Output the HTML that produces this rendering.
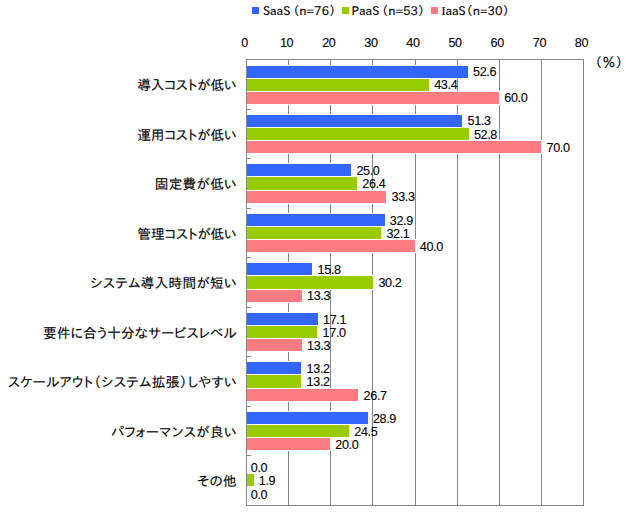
<!DOCTYPE html>
<html><head><meta charset="utf-8"><style>
html,body{margin:0;padding:0;background:#fff;}
body{width:625px;height:513px;position:relative;overflow:hidden;}
.a{position:absolute;}
.t{position:absolute;white-space:nowrap;font-family:"Liberation Sans","IPAPGothic",sans-serif;font-size:12px;line-height:14px;color:#000;}
.l{font-family:"IPAPGothic","Liberation Sans","Noto Sans CJK JP",sans-serif;font-feature-settings:"palt";-webkit-text-stroke:0.15px #000;}
.j{font-family:"Liberation Sans","IPAPGothic","Noto Sans CJK JP",sans-serif;font-feature-settings:"palt";font-size:13.7px;line-height:16px;color:#000;-webkit-text-stroke:0.12px #000;}
.g{position:absolute;background:#868686;}
.n{font-size:12.6px;letter-spacing:-0.35px;-webkit-text-stroke:0.1px #000;}
.w{position:absolute;background:#fff;}
</style></head><body>

<div class="a" style="left:252px;top:7px;width:7px;height:7px;background:#3366ff"></div>
<div class="t l" style="left:263px;top:3px">SaaS<span style="margin-left:2.4px">（</span>n=76）</div>
<div class="a" style="left:342px;top:7px;width:7px;height:7px;background:#99cc00"></div>
<div class="t l" style="left:351.5px;top:3px">PaaS<span style="margin-left:2.4px">（</span>n=53）</div>
<div class="a" style="left:431px;top:7px;width:7px;height:7px;background:#ff7c80"></div>
<div class="t l" style="left:441.4px;top:3px"><span style="font-family:'Liberation Serif',serif">I</span>aaS<span style="margin-left:0.5px">（</span>n=30）</div>
<div class="t n" style="left:229.5px;top:35.5px;width:30px;text-align:center">0</div>
<div class="t n" style="left:271.6px;top:35.5px;width:30px;text-align:center">10</div>
<div class="t n" style="left:313.8px;top:35.5px;width:30px;text-align:center">20</div>
<div class="t n" style="left:355.9px;top:35.5px;width:30px;text-align:center">30</div>
<div class="t n" style="left:398.0px;top:35.5px;width:30px;text-align:center">40</div>
<div class="t n" style="left:440.1px;top:35.5px;width:30px;text-align:center">50</div>
<div class="t n" style="left:482.2px;top:35.5px;width:30px;text-align:center">60</div>
<div class="t n" style="left:524.4px;top:35.5px;width:30px;text-align:center">70</div>
<div class="t n" style="left:566.5px;top:35.5px;width:30px;text-align:center">80</div>
<div class="t l" style="left:594.8px;top:56px;font-size:13px;letter-spacing:0.5px">（％）</div>
<div class="g" style="left:288px;top:59px;width:1px;height:446px"></div>
<div class="g" style="left:330px;top:59px;width:1px;height:446px"></div>
<div class="g" style="left:372px;top:59px;width:1px;height:446px"></div>
<div class="g" style="left:415px;top:59px;width:1px;height:446px"></div>
<div class="g" style="left:457px;top:59px;width:1px;height:446px"></div>
<div class="g" style="left:499px;top:59px;width:1px;height:446px"></div>
<div class="g" style="left:541px;top:59px;width:1px;height:446px"></div>
<div class="g" style="left:246px;top:59px;width:338px;height:1px"></div>
<div class="g" style="left:246px;top:505px;width:338px;height:1px"></div>
<div class="g" style="left:583px;top:59px;width:1px;height:447px"></div>
<div class="g" style="left:246px;top:109px;width:5px;height:1px"></div>
<div class="g" style="left:246px;top:158px;width:5px;height:1px"></div>
<div class="g" style="left:246px;top:208px;width:5px;height:1px"></div>
<div class="g" style="left:246px;top:257px;width:5px;height:1px"></div>
<div class="g" style="left:246px;top:307px;width:5px;height:1px"></div>
<div class="g" style="left:246px;top:356px;width:5px;height:1px"></div>
<div class="g" style="left:246px;top:406px;width:5px;height:1px"></div>
<div class="g" style="left:246px;top:455px;width:5px;height:1px"></div>
<div class="w" style="left:247px;top:65px;width:222px;height:14px"></div>
<div class="w" style="left:247px;top:78px;width:183px;height:14px"></div>
<div class="w" style="left:247px;top:91px;width:253px;height:14px"></div>
<div class="a" style="left:247px;top:66px;width:221px;height:12px;background:#3366ff"></div>
<div class="t n" style="left:473.0px;top:64.8px">52.6</div>
<div class="a" style="left:247px;top:79px;width:182px;height:12px;background:#99cc00"></div>
<div class="t n" style="left:434.2px;top:78.0px">43.4</div>
<div class="a" style="left:247px;top:92px;width:252px;height:12px;background:#ff7c80"></div>
<div class="t n" style="left:504.3px;top:91.1px">60.0</div>
<div class="t j" style="right:388.37px;top:78.0px;letter-spacing:-0.171px">導入コストが低い</div>
<div class="w" style="left:247px;top:114px;width:216px;height:14px"></div>
<div class="w" style="left:247px;top:127px;width:223px;height:14px"></div>
<div class="w" style="left:247px;top:140px;width:295px;height:14px"></div>
<div class="a" style="left:247px;top:115px;width:215px;height:12px;background:#3366ff"></div>
<div class="t n" style="left:467.5px;top:114.4px">51.3</div>
<div class="a" style="left:247px;top:128px;width:222px;height:12px;background:#99cc00"></div>
<div class="t n" style="left:473.9px;top:127.5px">52.8</div>
<div class="a" style="left:247px;top:141px;width:294px;height:12px;background:#ff7c80"></div>
<div class="t n" style="left:546.5px;top:140.7px">70.0</div>
<div class="t j" style="right:388.37px;top:127.6px;letter-spacing:-0.171px">運用コストが低い</div>
<div class="w" style="left:247px;top:163px;width:105px;height:14px"></div>
<div class="w" style="left:247px;top:176px;width:111px;height:15px"></div>
<div class="w" style="left:247px;top:190px;width:140px;height:14px"></div>
<div class="a" style="left:247px;top:164px;width:104px;height:12px;background:#3366ff"></div>
<div class="t n" style="left:356.4px;top:163.9px">25.0</div>
<div class="a" style="left:247px;top:177px;width:110px;height:13px;background:#99cc00"></div>
<div class="t n" style="left:362.3px;top:177.1px">26.4</div>
<div class="a" style="left:247px;top:191px;width:139px;height:12px;background:#ff7c80"></div>
<div class="t n" style="left:391.5px;top:190.2px">33.3</div>
<div class="t j" style="right:387.96px;top:176.6px;letter-spacing:0.240px">固定費が低い</div>
<div class="w" style="left:247px;top:213px;width:139px;height:14px"></div>
<div class="w" style="left:247px;top:226px;width:135px;height:14px"></div>
<div class="w" style="left:247px;top:239px;width:169px;height:14px"></div>
<div class="a" style="left:247px;top:214px;width:138px;height:12px;background:#3366ff"></div>
<div class="t n" style="left:389.8px;top:213.5px">32.9</div>
<div class="a" style="left:247px;top:227px;width:134px;height:12px;background:#99cc00"></div>
<div class="t n" style="left:386.4px;top:226.6px">32.1</div>
<div class="a" style="left:247px;top:240px;width:168px;height:12px;background:#ff7c80"></div>
<div class="t n" style="left:419.8px;top:239.8px">40.0</div>
<div class="t j" style="right:388.41px;top:226.7px;letter-spacing:-0.214px">管理コストが低い</div>
<div class="w" style="left:247px;top:262px;width:66px;height:14px"></div>
<div class="w" style="left:247px;top:275px;width:127px;height:15px"></div>
<div class="w" style="left:247px;top:289px;width:56px;height:14px"></div>
<div class="a" style="left:247px;top:263px;width:65px;height:12px;background:#3366ff"></div>
<div class="t n" style="left:317.6px;top:263.0px">15.8</div>
<div class="a" style="left:247px;top:276px;width:126px;height:13px;background:#99cc00"></div>
<div class="t n" style="left:378.4px;top:276.2px">30.2</div>
<div class="a" style="left:247px;top:290px;width:55px;height:12px;background:#ff7c80"></div>
<div class="t n" style="left:307.0px;top:289.3px">13.3</div>
<div class="t j" style="right:387.93px;top:276.2px;letter-spacing:0.275px">システム導入時間が短い</div>
<div class="w" style="left:247px;top:312px;width:72px;height:14px"></div>
<div class="w" style="left:247px;top:325px;width:71px;height:14px"></div>
<div class="w" style="left:247px;top:338px;width:56px;height:14px"></div>
<div class="a" style="left:247px;top:313px;width:71px;height:12px;background:#3366ff"></div>
<div class="t n" style="left:323.0px;top:312.6px">17.1</div>
<div class="a" style="left:247px;top:326px;width:70px;height:12px;background:#99cc00"></div>
<div class="t n" style="left:322.6px;top:325.8px">17.0</div>
<div class="a" style="left:247px;top:339px;width:55px;height:12px;background:#ff7c80"></div>
<div class="t n" style="left:307.0px;top:338.9px">13.3</div>
<div class="t j" style="right:388.11px;top:325.8px;letter-spacing:0.093px">要件に合う十分なサービスレベル</div>
<div class="w" style="left:247px;top:361px;width:55px;height:14px"></div>
<div class="w" style="left:247px;top:374px;width:55px;height:15px"></div>
<div class="w" style="left:247px;top:388px;width:112px;height:14px"></div>
<div class="a" style="left:247px;top:362px;width:54px;height:12px;background:#3366ff"></div>
<div class="t n" style="left:306.6px;top:362.2px">13.2</div>
<div class="a" style="left:247px;top:375px;width:54px;height:13px;background:#99cc00"></div>
<div class="t n" style="left:306.6px;top:375.3px">13.2</div>
<div class="a" style="left:247px;top:389px;width:111px;height:12px;background:#ff7c80"></div>
<div class="t n" style="left:363.6px;top:388.5px">26.7</div>
<div class="t j" style="right:387.91px;top:374.9px;letter-spacing:0.294px">スケールアウト（システム拡張）しやすい</div>
<div class="w" style="left:247px;top:411px;width:122px;height:14px"></div>
<div class="w" style="left:247px;top:424px;width:103px;height:14px"></div>
<div class="w" style="left:247px;top:437px;width:84px;height:14px"></div>
<div class="a" style="left:247px;top:412px;width:121px;height:12px;background:#3366ff"></div>
<div class="t n" style="left:372.9px;top:411.7px">28.9</div>
<div class="a" style="left:247px;top:425px;width:102px;height:12px;background:#99cc00"></div>
<div class="t n" style="left:354.3px;top:424.9px">24.5</div>
<div class="a" style="left:247px;top:438px;width:83px;height:12px;background:#ff7c80"></div>
<div class="t n" style="left:335.3px;top:438.0px">20.0</div>
<div class="t j" style="right:387.89px;top:425.4px;letter-spacing:0.306px">パフォーマンスが良い</div>
<div class="w" style="left:247px;top:473px;width:8px;height:14px"></div>
<div class="t n" style="left:250.8px;top:461.3px">0.0</div>
<div class="a" style="left:247px;top:474px;width:7px;height:12px;background:#99cc00"></div>
<div class="t n" style="left:258.8px;top:474.4px">1.9</div>
<div class="t n" style="left:250.8px;top:487.6px">0.0</div>
<div class="t j" style="right:387.85px;top:473.5px;letter-spacing:0.350px">その他</div>
<div class="g" style="left:246px;top:59px;width:1px;height:447px"></div>
</body></html>
